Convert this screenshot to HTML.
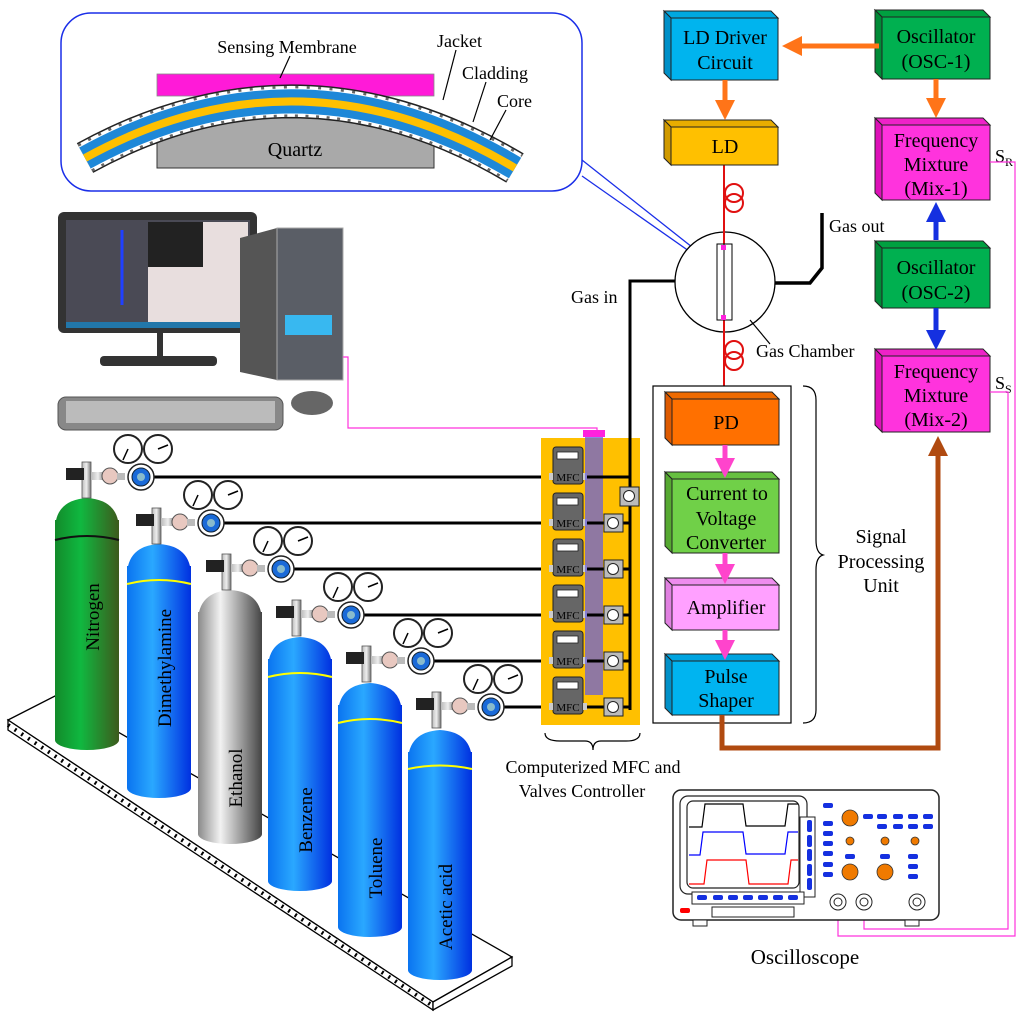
<!DOCTYPE html>
<html><head><meta charset="utf-8"><style>
html,body{margin:0;padding:0;background:#fff;}
svg{display:block;font-family:"Liberation Serif",serif;}
</style></head><body>
<svg width="1024" height="1016" viewBox="0 0 1024 1016" xmlns="http://www.w3.org/2000/svg">
<defs>
<linearGradient id="gb" x1="0" x2="1"><stop offset="0" stop-color="#0a74f0"/><stop offset="0.4" stop-color="#2aa8ff"/><stop offset="1" stop-color="#0030e0"/></linearGradient>
<linearGradient id="gg" x1="0" x2="1"><stop offset="0" stop-color="#128a2a"/><stop offset="0.4" stop-color="#10b840"/><stop offset="1" stop-color="#3d5a1c"/></linearGradient>
<linearGradient id="gs" x1="0" x2="1"><stop offset="0" stop-color="#8a8a8a"/><stop offset="0.35" stop-color="#f2f2f2"/><stop offset="1" stop-color="#444"/></linearGradient>
<linearGradient id="gm" x1="0" x2="1"><stop offset="0" stop-color="#bbb"/><stop offset="0.5" stop-color="#eee"/><stop offset="1" stop-color="#777"/></linearGradient>
<marker id="ao" markerWidth="4" markerHeight="4" refX="2" refY="2" orient="auto"><path d="M0,0L4,2L0,4z" fill="#ff7418"/></marker>
<marker id="ab" markerWidth="4" markerHeight="4" refX="2" refY="2" orient="auto"><path d="M0,0L4,2L0,4z" fill="#1530e0"/></marker>
<marker id="ap" markerWidth="4" markerHeight="4" refX="2" refY="2" orient="auto"><path d="M0,0L4,2L0,4z" fill="#ff44cc"/></marker>
<marker id="abr" markerWidth="4" markerHeight="4" refX="2" refY="2" orient="auto"><path d="M0,0L4,2L0,4z" fill="#b04a10"/></marker>
</defs>

<!-- Inset -->
<rect x="61" y="13" width="521" height="178" rx="30" fill="#fff" stroke="#1a2ee8" stroke-width="1.5"/>
<rect x="157" y="74" width="277" height="22" fill="#ff1ad8" stroke="#888" stroke-width="0.8"/>
<rect x="157" y="118" width="277" height="50" fill="#a9a9a9" stroke="#333" stroke-width="1"/>
<path d="M85,158 Q300,40 515,168" fill="none" stroke="#222" stroke-width="34"/>
<path d="M85,158 Q300,40 515,168" fill="none" stroke="#fff" stroke-width="31"/>
<path d="M85,158 Q300,40 515,168" fill="none" stroke="#222" stroke-width="31" stroke-dasharray="3 8" opacity="0.7"/>
<path d="M85,158 Q300,40 515,168" fill="none" stroke="#fff" stroke-width="26"/>
<path d="M85,158 Q300,40 515,168" fill="none" stroke="#1e88d8" stroke-width="24"/>
<path d="M85,158 Q300,40 515,168" fill="none" stroke="#ffc000" stroke-width="8"/>
<text x="287" y="53" font-size="18" text-anchor="middle">Sensing Membrane</text>
<line x1="290" y1="56" x2="280" y2="78" stroke="#000" stroke-width="1.2"/>
<text x="295" y="156" font-size="20" text-anchor="middle">Quartz</text>
<text x="437" y="47" font-size="18">Jacket</text>
<text x="462" y="79" font-size="18">Cladding</text>
<text x="497" y="107" font-size="18">Core</text>
<line x1="456" y1="50" x2="443" y2="100" stroke="#000" stroke-width="1.2"/>
<line x1="486" y1="82" x2="473" y2="122" stroke="#000" stroke-width="1.2"/>
<line x1="506" y1="110" x2="490" y2="140" stroke="#000" stroke-width="1.2"/>
<line x1="582" y1="160" x2="716" y2="266" stroke="#1a2ee8" stroke-width="1.3"/>
<line x1="582" y1="176" x2="716" y2="270" stroke="#1a2ee8" stroke-width="1.3"/>

<!-- Computer -->
<rect x="58" y="212" width="199" height="121" rx="6" fill="#333"/>
<rect x="66" y="220" width="184" height="104" fill="#4a4a55"/>
<rect x="148" y="222" width="100" height="100" fill="#e8dede"/>
<rect x="148" y="222" width="55" height="45" fill="#222"/>
<line x1="122" y1="230" x2="122" y2="305" stroke="#2040ff" stroke-width="3"/>
<rect x="66" y="322" width="184" height="6" fill="#27a"/>
<rect x="157" y="333" width="6" height="24" fill="#333"/>
<rect x="100" y="356" width="117" height="10" rx="4" fill="#333"/>
<polygon points="240,238 277,228 277,380 240,372" fill="#555"/>
<rect x="277" y="228" width="66" height="152" fill="#5a5e66" stroke="#aaa"/>
<rect x="285" y="315" width="47" height="20" fill="#38b8f0"/>
<rect x="58" y="397" width="225" height="33" rx="8" fill="#888" stroke="#555"/>
<rect x="66" y="401" width="209" height="22" fill="#bbb"/>
<ellipse cx="312" cy="403" rx="21" ry="12" fill="#666"/>
<polyline points="343,357 348,357 348,428 597,428 597,433" fill="none" stroke="#ff33dd" stroke-width="1.2"/>

<!-- Platform -->
<polygon points="8,720 55,696 512,957 433,1002" fill="#fff" stroke="#000" stroke-width="1.3"/>
<polygon points="8,720 433,1002 433,1010 8,730" fill="#fff" stroke="#000" stroke-width="1.3"/>
<polygon points="433,1002 512,957 512,966 433,1010" fill="#fff" stroke="#000" stroke-width="1.3"/>
<line x1="8" y1="725" x2="433" y2="1006" stroke="#000" stroke-width="4" stroke-dasharray="2 6"/>

<!-- Cylinders -->
<g>
<rect x="55" y="520" width="64" height="220" fill="url(#gg)"/>
<path d="M55,530 Q55,500 87,498 Q119,500 119,530Z" fill="url(#gg)"/>
<ellipse cx="87" cy="740" rx="32" ry="10" fill="url(#gg)"/>
<path d="M55,540 Q87,532 119,540" stroke="#111" stroke-width="2" fill="none"/>
<text transform="translate(99,617) rotate(-90)" font-size="19" text-anchor="middle">Nitrogen</text>
</g>
<g>
<rect x="127" y="566" width="64" height="222" fill="url(#gb)"/>
<path d="M127,576 Q127,546 159,544 Q191,546 191,576Z" fill="url(#gb)"/>
<ellipse cx="159" cy="788" rx="32" ry="10" fill="url(#gb)"/>
<path d="M127,584 Q159,576 191,584" stroke="#ff0" stroke-width="2" fill="none"/>
<text transform="translate(171,668) rotate(-90)" font-size="19" text-anchor="middle">Dimethylamine</text>
</g>
<g>
<rect x="198" y="612" width="64" height="222" fill="url(#gs)"/>
<path d="M198,622 Q198,592 230,590 Q262,592 262,622Z" fill="url(#gs)"/>
<ellipse cx="230" cy="834" rx="32" ry="10" fill="url(#gs)"/>
<text transform="translate(242,778) rotate(-90)" font-size="19" text-anchor="middle">Ethanol</text>
</g>
<g>
<rect x="268" y="659" width="64" height="222" fill="url(#gb)"/>
<path d="M268,669 Q268,639 300,637 Q332,639 332,669Z" fill="url(#gb)"/>
<ellipse cx="300" cy="881" rx="32" ry="10" fill="url(#gb)"/>
<path d="M268,677 Q300,669 332,677" stroke="#ff0" stroke-width="2" fill="none"/>
<text transform="translate(312,820) rotate(-90)" font-size="19" text-anchor="middle">Benzene</text>
</g>
<g>
<rect x="338" y="705" width="64" height="222" fill="url(#gb)"/>
<path d="M338,715 Q338,685 370,683 Q402,685 402,715Z" fill="url(#gb)"/>
<ellipse cx="370" cy="927" rx="32" ry="10" fill="url(#gb)"/>
<path d="M338,723 Q370,715 402,723" stroke="#ff0" stroke-width="2" fill="none"/>
<text transform="translate(382,868) rotate(-90)" font-size="19" text-anchor="middle">Toluene</text>
</g>
<g>
<rect x="408" y="752" width="64" height="218" fill="url(#gb)"/>
<path d="M408,762 Q408,732 440,730 Q472,732 472,762Z" fill="url(#gb)"/>
<ellipse cx="440" cy="970" rx="32" ry="10" fill="url(#gb)"/>
<path d="M408,769 Q440,762 472,769" stroke="#ff0" stroke-width="2" fill="none"/>
<text transform="translate(452,907) rotate(-90)" font-size="19" text-anchor="middle">Acetic acid</text>
</g>

<!-- Gas lines -->
<g stroke="#000" stroke-width="3">
<line x1="154" y1="477" x2="553" y2="477"/>
<line x1="224" y1="523" x2="553" y2="523"/>
<line x1="294" y1="569" x2="553" y2="569"/>
<line x1="364" y1="615" x2="553" y2="615"/>
<line x1="434" y1="661" x2="553" y2="661"/>
<line x1="504" y1="707" x2="553" y2="707"/>
</g>

<!-- Regulators -->
<g id="reg">
<rect x="82" y="462" width="9" height="36" fill="url(#gm)" stroke="#555" stroke-width="0.8"/>
<rect x="66" y="468" width="18" height="12" fill="#222"/>
<rect x="91" y="472" width="14" height="8" fill="url(#gm)"/>
<circle cx="110" cy="476" r="8" fill="#e8c8c0" stroke="#555"/>
<rect x="117" y="473" width="8" height="7" fill="#bbb"/>
<circle cx="141" cy="477" r="13" fill="#fff" stroke="#222" stroke-width="1.5"/>
<circle cx="141" cy="477" r="9" fill="#1a6ad8" stroke="#123"/>
<circle cx="141" cy="477" r="4" fill="#8bc"/>
<circle cx="128" cy="449" r="14" fill="#fff" stroke="#222" stroke-width="2"/>
<line x1="128" y1="449" x2="123" y2="460" stroke="#000" stroke-width="1.5"/>
<circle cx="158" cy="449" r="14" fill="#fff" stroke="#222" stroke-width="2"/>
<line x1="158" y1="449" x2="168" y2="445" stroke="#000" stroke-width="1.5"/>
</g>
<use href="#reg" transform="translate(70,46)"/>
<use href="#reg" transform="translate(140,92)"/>
<use href="#reg" transform="translate(210,138)"/>
<use href="#reg" transform="translate(280,184)"/>
<use href="#reg" transform="translate(350,230)"/>

<!-- MFC panel -->
<rect x="541" y="438" width="99" height="287" fill="#ffc000"/>
<g id="mfc">
<rect x="553" y="447" width="30" height="37" rx="3" fill="#666" stroke="#222"/>
<rect x="557" y="452" width="21" height="7" fill="#fff" stroke="#222" stroke-width="0.8"/>
<text x="568" y="481" font-size="11" text-anchor="middle">MFC</text>
<rect x="549" y="473" width="4" height="7" fill="#ccc"/>
<rect x="583" y="473" width="4" height="7" fill="#ccc"/>
</g>
<use href="#mfc" transform="translate(0,46)"/>
<use href="#mfc" transform="translate(0,92)"/>
<use href="#mfc" transform="translate(0,138)"/>
<use href="#mfc" transform="translate(0,184)"/>
<use href="#mfc" transform="translate(0,230)"/>
<rect x="585" y="430" width="18" height="265" fill="#6a60d8" opacity="0.75"/>
<rect x="583" y="430" width="22" height="7" fill="#ff22dd"/>
<g stroke="#000" stroke-width="3" fill="none">
<line x1="587" y1="523" x2="630" y2="523"/><line x1="587" y1="569" x2="630" y2="569"/>
<line x1="587" y1="615" x2="630" y2="615"/><line x1="587" y1="661" x2="630" y2="661"/>
<line x1="587" y1="707" x2="630" y2="707"/><line x1="587" y1="477" x2="630" y2="477"/>
<polyline points="630,710 630,281 675,281"/>
</g>
<g fill="#bbb" stroke="#222" stroke-width="1">
<rect x="620" y="487" width="19" height="19"/>
<rect x="604" y="514" width="19" height="18"/><rect x="604" y="560" width="19" height="18"/>
<rect x="604" y="606" width="19" height="18"/><rect x="604" y="652" width="19" height="18"/>
<rect x="604" y="698" width="19" height="18"/>
</g>
<g fill="#fff" stroke="#222">
<circle cx="629" cy="496" r="5.5"/><circle cx="613" cy="523" r="5.5"/><circle cx="613" cy="569" r="5.5"/>
<circle cx="613" cy="615" r="5.5"/><circle cx="613" cy="661" r="5.5"/><circle cx="613" cy="707" r="5.5"/>
</g>
<path d="M545,733 Q545,741 560,741 L585,741 Q593,741 593,750 Q593,741 601,741 L626,741 Q640,741 640,733" fill="none" stroke="#000" stroke-width="1.2"/>
<text x="593" y="773" font-size="18" text-anchor="middle">Computerized MFC and</text>
<text x="582" y="797" font-size="18" text-anchor="middle">Valves Controller</text>

<!-- Gas chamber -->
<circle cx="725" cy="282" r="50" fill="#fff" stroke="#000" stroke-width="1.3"/>
<polyline points="775,283 810,283 822,268 822,213" fill="none" stroke="#000" stroke-width="3.5"/>
<text x="829" y="232" font-size="18">Gas out</text>
<text x="571" y="303" font-size="18">Gas in</text>
<line x1="724" y1="165" x2="724" y2="398" stroke="#e01010" stroke-width="2"/>
<g fill="none" stroke="#e01010" stroke-width="2">
<circle cx="734" cy="193" r="9"/><circle cx="734" cy="203" r="9"/>
<circle cx="734" cy="350" r="9"/><circle cx="734" cy="361" r="9"/>
</g>
<rect x="717" y="244" width="15" height="76" fill="#fff" stroke="#000"/>
<line x1="724" y1="244" x2="724" y2="320" stroke="#000"/>
<rect x="721" y="245" width="5" height="5" fill="#ff22dd"/>
<rect x="721" y="315" width="5" height="5" fill="#ff22dd"/>
<line x1="770" y1="344" x2="750" y2="320" stroke="#000" stroke-width="1.2"/>
<text x="756" y="357" font-size="18">Gas Chamber</text>

<!-- Blocks -->
<g stroke="#222" stroke-width="1">
<polygon points="664,11 771,11 778,18 671,18" fill="#00a8e0"/><polygon points="664,11 671,18 671,80 664,73" fill="#0090c8"/>
<rect x="671" y="18" width="107" height="62" fill="#00b4ee"/>
<polygon points="875,10 983,10 990,17 882,17" fill="#00a040"/><polygon points="875,10 882,17 882,79 875,72" fill="#008a36"/>
<rect x="882" y="17" width="108" height="62" fill="#00b050"/>
<polygon points="664,120 771,120 778,127 671,127" fill="#e8ad00"/><polygon points="664,120 671,127 671,165 664,158" fill="#d09a00"/>
<rect x="671" y="127" width="107" height="38" fill="#ffc000"/>
<polygon points="875,118 983,118 990,125 882,125" fill="#ee22c8"/><polygon points="875,118 882,125 882,200 875,193" fill="#dd11b8"/>
<rect x="882" y="125" width="108" height="75" fill="#ff33dd"/>
<polygon points="875,241 983,241 990,248 882,248" fill="#00a040"/><polygon points="875,241 882,248 882,308 875,301" fill="#008a36"/>
<rect x="882" y="248" width="108" height="60" fill="#00b050"/>
<polygon points="875,349 983,349 990,356 882,356" fill="#ee22c8"/><polygon points="875,349 882,356 882,432 875,425" fill="#dd11b8"/>
<rect x="882" y="356" width="108" height="76" fill="#ff33dd"/>
</g>
<g font-size="20" text-anchor="middle">
<text x="725" y="44">LD Driver</text><text x="725" y="69">Circuit</text>
<text x="936" y="43">Oscillator</text><text x="936" y="68">(OSC-1)</text>
<text x="725" y="153">LD</text>
<text x="936" y="147">Frequency</text><text x="936" y="171">Mixture</text><text x="936" y="195">(Mix-1)</text>
<text x="936" y="274">Oscillator</text><text x="936" y="299">(OSC-2)</text>
<text x="936" y="378">Frequency</text><text x="936" y="402">Mixture</text><text x="936" y="426">(Mix-2)</text>
</g>
<line x1="879" y1="46" x2="792" y2="46" stroke="#ff7418" stroke-width="5" marker-end="url(#ao)"/>
<line x1="725" y1="80" x2="725" y2="110" stroke="#ff7418" stroke-width="5" marker-end="url(#ao)"/>
<line x1="936" y1="79" x2="936" y2="108" stroke="#ff7418" stroke-width="5" marker-end="url(#ao)"/>
<line x1="936" y1="240" x2="936" y2="212" stroke="#1530e0" stroke-width="5" marker-end="url(#ab)"/>
<line x1="936" y1="308" x2="936" y2="340" stroke="#1530e0" stroke-width="5" marker-end="url(#ab)"/>
<text x="995" y="162" font-size="18">S<tspan font-size="12" dy="4">R</tspan></text>
<text x="995" y="389" font-size="18">S<tspan font-size="12" dy="4">S</tspan></text>

<!-- Signal processing -->
<rect x="653" y="386" width="138" height="337" fill="#fff" stroke="#000" stroke-width="1.2"/>
<g stroke="#222" stroke-width="1">
<polygon points="665,392 772,392 779,399 672,399" fill="#ee6a00"/><polygon points="665,392 672,399 672,445 665,438" fill="#dd5a00"/>
<rect x="672" y="399" width="107" height="46" fill="#ff7000"/>
<polygon points="665,472 772,472 779,479 672,479" fill="#66c040"/><polygon points="665,472 672,479 672,553 665,546" fill="#55a830"/>
<rect x="672" y="479" width="107" height="74" fill="#70d048"/>
<polygon points="665,578 772,578 779,585 672,585" fill="#ee8cee"/><polygon points="665,578 672,585 672,630 665,623" fill="#e080e0"/>
<rect x="672" y="585" width="107" height="45" fill="#ffa0ff"/>
<polygon points="665,654 772,654 779,661 672,661" fill="#00a4e0"/><polygon points="665,654 672,661 672,715 665,708" fill="#0090c8"/>
<rect x="672" y="661" width="107" height="54" fill="#00b4f0"/>
</g>
<g stroke="#ff44cc" stroke-width="5">
<line x1="725" y1="445" x2="725" y2="468" marker-end="url(#ap)"/>
<line x1="725" y1="553" x2="725" y2="574" marker-end="url(#ap)"/>
<line x1="725" y1="630" x2="725" y2="650" marker-end="url(#ap)"/>
</g>
<g font-size="20" text-anchor="middle">
<text x="726" y="429">PD</text>
<text x="727" y="500">Current to</text><text x="726" y="525">Voltage</text><text x="726" y="549">Converter</text>
<text x="726" y="614">Amplifier</text>
<text x="726" y="683">Pulse</text><text x="726" y="707">Shaper</text>
<text x="881" y="543">Signal</text><text x="881" y="568">Processing</text><text x="881" y="592">Unit</text>
</g>
<path d="M803,386 Q816,386 816,400 L816,540 Q816,553 823,555 Q816,557 816,570 L816,710 Q816,723 803,723" fill="none" stroke="#000" stroke-width="1.2"/>
<polyline points="722,715 722,748 938,748 938,446" fill="none" stroke="#b04a10" stroke-width="5" marker-end="url(#abr)"/>

<!-- Pink signal lines -->
<polyline points="990,162 1015,162 1015,936 838,936 838,903" fill="none" stroke="#ff33dd" stroke-width="1.2"/>
<polyline points="990,392 1008,392 1008,929 864,929 864,903" fill="none" stroke="#ff33dd" stroke-width="1.2"/>

<!-- Oscilloscope -->
<rect x="673" y="790" width="266" height="130" rx="8" fill="#fff" stroke="#222" stroke-width="1.5"/>
<rect x="680" y="796" width="127" height="98" rx="8" fill="#fff" stroke="#222" stroke-width="1.2"/>
<rect x="687" y="801" width="112" height="87" rx="6" fill="#fff" stroke="#222" stroke-width="1.2"/>
<polyline points="689,827 702,827 705,804 743,804 746,826 785,826 788,804 798,804" fill="none" stroke="#000" stroke-width="1.2"/>
<polyline points="689,855 700,855 703,832 743,832 746,854 785,854 788,832 798,832" fill="none" stroke="#0000ff" stroke-width="1.2"/>
<polyline points="689,884 704,884 707,860 746,860 749,884 788,884 791,860 798,860" fill="none" stroke="#f00" stroke-width="1.2"/>
<rect x="800" y="817" width="15" height="80" fill="#fff" stroke="#222"/>
<g fill="#1530e0"><rect x="807" y="820" width="5" height="12" rx="2"/><rect x="807" y="835" width="5" height="12" rx="2"/><rect x="807" y="849" width="5" height="12" rx="2"/><rect x="807" y="864" width="5" height="12" rx="2"/><rect x="807" y="878" width="5" height="12" rx="2"/></g>
<rect x="692" y="892" width="112" height="12" fill="#fff" stroke="#222"/>
<g fill="#1530e0"><rect x="697" y="895" width="10" height="5" rx="2"/><rect x="713" y="895" width="10" height="5" rx="2"/><rect x="728" y="895" width="10" height="5" rx="2"/><rect x="743" y="895" width="10" height="5" rx="2"/><rect x="758" y="895" width="10" height="5" rx="2"/><rect x="773" y="895" width="10" height="5" rx="2"/><rect x="788" y="895" width="10" height="5" rx="2"/></g>
<rect x="712" y="907" width="82" height="10" fill="#fff" stroke="#222"/>
<rect x="680" y="908" width="10" height="5" rx="2" fill="#f00"/>
<rect x="693" y="920" width="14" height="6" fill="#fff" stroke="#222"/>
<rect x="905" y="920" width="14" height="6" fill="#fff" stroke="#222"/>
<g fill="#1530e0">
<rect x="823" y="803" width="10" height="5" rx="2"/><rect x="823" y="821" width="10" height="5" rx="2"/><rect x="823" y="831" width="10" height="5" rx="2"/><rect x="823" y="841" width="10" height="5" rx="2"/><rect x="823" y="851" width="10" height="5" rx="2"/><rect x="823" y="862" width="10" height="5" rx="2"/><rect x="823" y="872" width="10" height="5" rx="2"/>
<rect x="863" y="814" width="10" height="5" rx="2"/><rect x="877" y="814" width="10" height="5" rx="2"/><rect x="893" y="814" width="10" height="5" rx="2"/><rect x="908" y="814" width="10" height="5" rx="2"/><rect x="923" y="814" width="10" height="5" rx="2"/>
<rect x="877" y="824" width="10" height="5" rx="2"/><rect x="893" y="824" width="10" height="5" rx="2"/><rect x="908" y="824" width="10" height="5" rx="2"/><rect x="923" y="824" width="10" height="5" rx="2"/>
<rect x="845" y="854" width="10" height="5" rx="2"/><rect x="880" y="854" width="10" height="5" rx="2"/><rect x="908" y="854" width="10" height="5" rx="2"/><rect x="908" y="864" width="10" height="5" rx="2"/><rect x="908" y="874" width="10" height="5" rx="2"/>
</g>
<g fill="#f07a00" stroke="#333" stroke-width="0.8">
<circle cx="850" cy="818" r="8"/><circle cx="850" cy="841" r="4"/><circle cx="885" cy="841" r="4"/><circle cx="915" cy="841" r="4"/>
<circle cx="850" cy="872" r="8"/><circle cx="885" cy="872" r="8"/>
</g>
<g fill="none" stroke="#222">
<circle cx="838" cy="902" r="8"/><circle cx="838" cy="902" r="4"/>
<circle cx="864" cy="902" r="8"/><circle cx="864" cy="902" r="4"/>
<circle cx="917" cy="902" r="8"/><circle cx="917" cy="902" r="4"/>
</g>
<text x="805" y="964" font-size="21" text-anchor="middle">Oscilloscope</text>
</svg>
</body></html>
